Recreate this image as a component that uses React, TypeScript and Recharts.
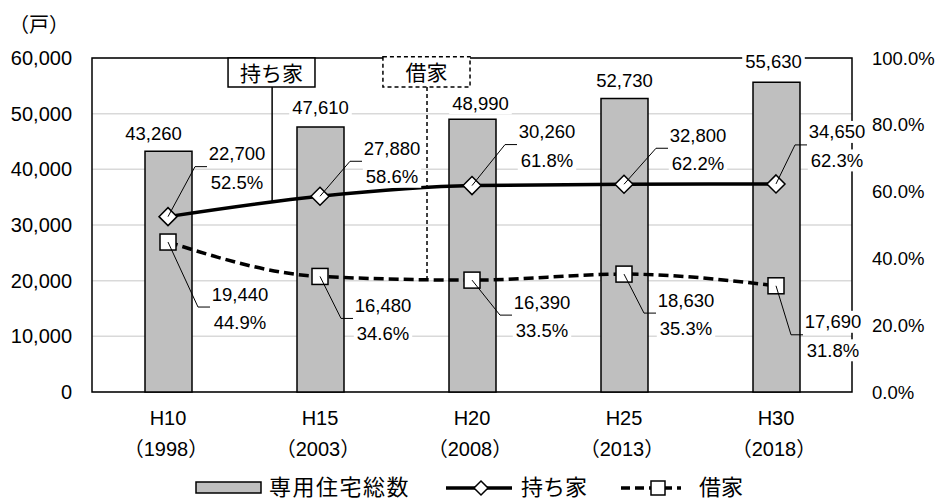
import React from 'react';
import {
  Bar,
  CartesianGrid,
  ComposedChart,
  LabelList,
  Legend,
  Line,
  ReferenceArea,
  ReferenceLine,
  XAxis,
  YAxis,
} from 'recharts';

// 専用住宅の所有関係別戸数
const periods = ['H10', 'H15', 'H20', 'H25', 'H30'];
const years = ['1998', '2003', '2008', '2013', '2018'];
const totalHomes = [43260, 47610, 48990, 52730, 55630];
const ownedHomes = [22700, 27880, 30260, 32800, 34650];
const ownedShare = [52.5, 58.6, 61.8, 62.2, 62.3];
const rentedHomes = [19440, 16480, 16390, 18630, 17690];
const rentedShare = [44.9, 34.6, 33.5, 35.3, 31.8];
const countTicks = [0, 10000, 20000, 30000, 40000, 50000, 60000];
const shareTicks = [0, 20, 40, 60, 80, 100];

// label placement (dx, dy from the mark)
const barLabelOffset = [[-15, -18], [0, -19], [8, -16], [0, -18], [-3, -21]];
const ownedLabelOffset = [[69, -63], [72, -48], [75, -54], [74, -49], [61, -52]];
const rentedLabelOffset = [[72, 52], [63, 29], [70, 22], [62, 26], [57, 36]];

const FONT = "'Liberation Sans', Arial, 'Noto Sans CJK JP', sans-serif";
const LABEL_SIZE = 18.5;

const rows = periods.map((period, i) => ({
  period,
  slot: i,
  total: totalHomes[i],
  ownedShare: ownedShare[i],
  rentedShare: rentedShare[i],
}));

const fmt = (v: number) => v.toLocaleString('en-US');

const textWidth = (s: string, size: number) => {
  let w = 0;
  for (const ch of s) {
    if (ch === ',' || ch === '.') w += 0.278;
    else if (ch === '%') w += 0.889;
    else w += 0.556;
  }
  return w * size;
};

// text with a white box behind it so gridlines break around it
const BoxedText = ({ x, y, text }: { x: number; y: number; text: string }) => {
  const w = textWidth(text, LABEL_SIZE) + 6;
  return (
    <g>
      <rect x={x - w / 2} y={y - 11} width={w} height={22} fill="#fff" />
      <text x={x} y={y} textAnchor="middle" dominantBaseline="central" fontSize={LABEL_SIZE} fill="#000">
        {text}
      </text>
    </g>
  );
};

const BarValueLabel = (props: any) => {
  const { x, y, width, index } = props;
  const [dx, dy] = barLabelOffset[index];
  return <BoxedText x={x + width / 2 + dx} y={y + dy} text={fmt(totalHomes[index])} />;
};

const makeShareLabel = (counts: number[], shares: number[], offsets: number[][]) => (props: any) => {
  const { index } = props;
  const px = props.x ?? props.viewBox?.x;
  const py = props.y ?? props.viewBox?.y;
  const [dx, dy] = offsets[index];
  const tx = px + dx;
  const ty = py + dy;
  const elbowY = ty + 13;
  return (
    <g>
      <polyline
        points={`${px},${py} ${tx - 42},${elbowY} ${tx - 30},${elbowY}`}
        fill="none"
        stroke="#000"
        strokeWidth={1}
      />
      <BoxedText x={tx} y={ty} text={fmt(counts[index])} />
      <BoxedText x={tx} y={ty + 28.5} text={`${shares[index].toFixed(1)}%`} />
    </g>
  );
};

const OwnedLabel = makeShareLabel(ownedHomes, ownedShare, ownedLabelOffset);
const RentedLabel = makeShareLabel(rentedHomes, rentedShare, rentedLabelOffset);

const diamondDot = (props: any) => {
  const { cx, cy, index } = props;
  return (
    <path
      key={`owned-dot-${index}`}
      d={`M${cx},${cy - 9}L${cx + 9},${cy}L${cx},${cy + 9}L${cx - 9},${cy}Z`}
      fill="#fff"
      stroke="#000"
      strokeWidth={1.5}
    />
  );
};

const squareDot = (props: any) => {
  const { cx, cy, index } = props;
  return (
    <rect
      key={`rented-dot-${index}`}
      x={cx - 8}
      y={cy - 8}
      width={16}
      height={16}
      fill="#fff"
      stroke="#000"
      strokeWidth={1.5}
    />
  );
};

const PeriodTick = ({ x, y, payload }: any) => {
  const i = periods.indexOf(payload.value);
  return (
    <g transform={`translate(${x},${y})`}>
      <text x={0} y={26} textAnchor="middle" dominantBaseline="central" fontSize={20} fill="#000">
        {payload.value}
      </text>
      <text x={-2} y={57} textAnchor="middle" dominantBaseline="central" fontSize={20} fill="#000">
        {`（${years[i]}）`}
      </text>
    </g>
  );
};

const calloutText = (text: string) => (props: any) => {
  const vb = props.viewBox;
  return (
    <text
      x={vb.x + vb.width / 2}
      y={vb.y + vb.height / 2 + 1}
      textAnchor="middle"
      dominantBaseline="central"
      fontSize={21}
      fill="#000"
    >
      {text}
    </text>
  );
};

const LegendRow = () => (
  <div
    style={{
      display: 'flex',
      justifyContent: 'center',
      alignItems: 'center',
      height: 24,
      fontFamily: FONT,
      fontSize: 22,
      color: '#000',
      lineHeight: '24px',
    }}
  >
    <svg width={68} height={14}>
      <rect x={1} y={1} width={65} height={11} fill="#bfbfbf" stroke="#000" strokeWidth={1.5} />
    </svg>
    <span style={{ marginLeft: 6, letterSpacing: 1.5 }}>専用住宅総数</span>
    <svg width={66} height={20} style={{ marginLeft: 36 }}>
      <line x1={0} x2={66} y1={10} y2={10} stroke="#000" strokeWidth={3.5} />
      <path d="M35,3L42,10L35,17L28,10Z" fill="#fff" stroke="#000" strokeWidth={1.5} />
    </svg>
    <span style={{ marginLeft: 9 }}>持ち家</span>
    <svg width={60} height={20} style={{ marginLeft: 34 }}>
      <line x1={0} x2={60} y1={10} y2={10} stroke="#000" strokeWidth={3.5} strokeDasharray="9 5" />
      <rect x={30} y={3} width={14} height={14} fill="#fff" stroke="#000" strokeWidth={1.5} />
    </svg>
    <span style={{ marginLeft: 18 }}>借家</span>
  </div>
);

export default function App() {
  return (
    <div style={{ position: 'absolute', left: 0, top: 0, fontFamily: FONT }}>
      <ComposedChart width={938} height={502} data={rows} margin={{ top: 58, right: 0, bottom: 2, left: 0 }}>
        <CartesianGrid yAxisId="count" vertical={false} stroke="#d9d9d9" strokeWidth={1.5} />
        <XAxis
          dataKey="period"
          axisLine={false}
          tickLine={false}
          tickSize={0}
          tickMargin={0}
          height={84}
          interval={0}
          tick={<PeriodTick />}
        />
        <XAxis
          xAxisId="ann"
          dataKey="slot"
          type="number"
          domain={[-0.5, 4.5]}
          allowDataOverflow
          hide
        />
        <YAxis
          yAxisId="count"
          domain={[0, 60000]}
          ticks={countTicks}
          tickFormatter={fmt}
          axisLine={false}
          tickLine={false}
          tickSize={0}
          tickMargin={20}
          width={92}
          tick={{ fill: '#000', fontSize: 20 }}
          label={{
            content: () => (
              <text x={9} y={25} dominantBaseline="central" fontSize={20} fill="#000">
                （戸）
              </text>
            ),
          }}
        />
        <YAxis
          yAxisId="share"
          orientation="right"
          domain={[0, 100]}
          ticks={shareTicks}
          tickFormatter={(v: number) => `${v.toFixed(1)}%`}
          axisLine={false}
          tickLine={false}
          tickSize={0}
          tickMargin={20}
          width={86}
          tick={{ fill: '#000', fontSize: 18.5, textAnchor: 'start' }}
        />
        {/* plot frame */}
        <ReferenceArea yAxisId="count" y1={0} y2={60000} fill="none" stroke="#000" strokeWidth={1.5} />
        <Bar
          yAxisId="count"
          dataKey="total"
          name="専用住宅総数"
          barSize={47}
          fill="#bfbfbf"
          stroke="#000"
          strokeWidth={1.5}
          isAnimationActive={false}
        >
          <LabelList dataKey="total" content={<BarValueLabel />} />
        </Bar>
        <Line
          yAxisId="share"
          dataKey="ownedShare"
          name="持ち家"
          type="monotone"
          stroke="#000"
          strokeWidth={3.5}
          dot={diamondDot}
          activeDot={false}
          isAnimationActive={false}
        >
          <LabelList dataKey="ownedShare" content={OwnedLabel} />
        </Line>
        <Line
          yAxisId="share"
          dataKey="rentedShare"
          name="借家"
          type="monotone"
          stroke="#000"
          strokeWidth={3.5}
          strokeDasharray="10 5"
          dot={squareDot}
          activeDot={false}
          isAnimationActive={false}
        >
          <LabelList dataKey="rentedShare" content={RentedLabel} />
        </Line>
        {/* callouts naming each line */}
        <ReferenceLine
          xAxisId="ann"
          yAxisId="share"
          segment={[{ x: 0.685, y: 91.3 }, { x: 0.685, y: 57 }]}
          stroke="#000"
          strokeWidth={1.5}
        />
        <ReferenceArea
          xAxisId="ann"
          yAxisId="share"
          x1={0.395}
          x2={0.967}
          y1={91.3}
          y2={100}
          fill="#fff"
          fillOpacity={1}
          stroke="#000"
          strokeWidth={1.5}
          label={calloutText('持ち家')}
        />
        <ReferenceLine
          xAxisId="ann"
          yAxisId="share"
          segment={[{ x: 1.704, y: 91.3 }, { x: 1.704, y: 34 }]}
          stroke="#000"
          strokeWidth={1.5}
          strokeDasharray="4 3"
        />
        <ReferenceArea
          xAxisId="ann"
          yAxisId="share"
          x1={1.414}
          x2={1.987}
          y1={91.3}
          y2={100.4}
          ifOverflow="visible"
          fill="#fff"
          fillOpacity={1}
          stroke="#000"
          strokeWidth={1.5}
          strokeDasharray="4 3"
          label={calloutText('借家')}
        />
        <Legend verticalAlign="bottom" align="center" content={<LegendRow />} />
      </ComposedChart>
    </div>
  );
}
